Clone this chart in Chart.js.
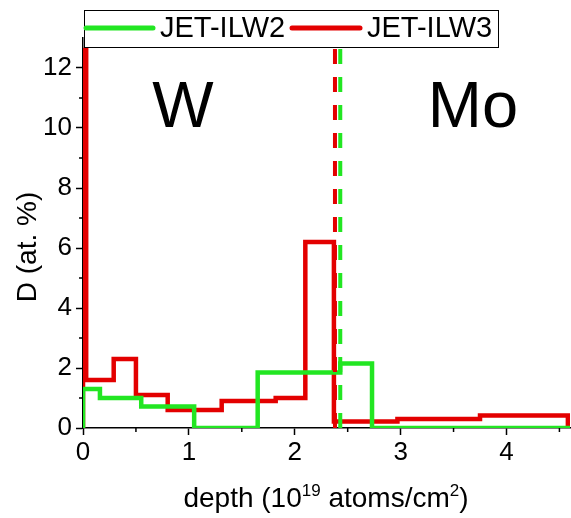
<!DOCTYPE html>
<html>
<head>
<meta charset="utf-8">
<script src="https://cdn.jsdelivr.net/npm/chart.js@4"></script>
<style>
  html, body { margin: 0; padding: 0; background: #fff; }
  #wrap { width: 571px; height: 518px; }
</style>
</head>
<body>
<div id="wrap"><canvas id="myChart" width="571" height="518"></canvas></div>
<script>
// step profiles: bin edges (depth, 1e19 atoms/cm2) and D content (at.%)
const ilw2Edges = [0, 0, 0.16, 0.55, 1.05, 1.65, 2.43, 2.73, 4.6];
const ilw2Values = [0, 1.3, 1.0, 0.72, 0, 1.85, 2.15, 0, 0];
const ilw3Edges = [0, 0, 0.03, 0.29, 0.5, 0.8, 1.31, 1.82, 2.1, 2.37, 2.97, 3.75, 4.58];
const ilw3Values = [0, 12.6, 1.6, 2.3, 1.1, 0.6, 0.9, 1.0, 6.2, 0.22, 0.3, 0.42, 0];

// W / Mo interface positions
const ilw2Interface = 2.43;
const ilw3Interface = 2.38;

const xTicks = [0, 1, 2, 3, 4];
const xMinor = [0.5, 1.5, 2.5, 3.5, 4.5];
const yTicks = [0, 2, 4, 6, 8, 10, 12];
const yMinor = [1, 3, 5, 7, 9, 11];
const seriesNames = ["JET-ILW2", "JET-ILW3"];

const green = "#22e622";
const red = "#e30000";
const font = "'Liberation Sans', Arial, sans-serif";

const toPoints = (xs, ys) => xs.map((x, i) => ({ x: x, y: ys[i] }));

const extras = {
    id: "extras",
    afterDraw(chart) {
        const ctx = chart.ctx;
        const xs = chart.scales.x;
        const ys = chart.scales.y;
        const area = chart.chartArea;
        ctx.save();

        // minor ticks
        ctx.strokeStyle = "#000";
        ctx.lineWidth = 1.5;
        yMinor.forEach(v => {
            const p = ys.getPixelForValue(v);
            ctx.beginPath();
            ctx.moveTo(area.left - 4, p);
            ctx.lineTo(area.left, p);
            ctx.stroke();
        });
        xMinor.forEach(v => {
            const p = xs.getPixelForValue(v);
            ctx.beginPath();
            ctx.moveTo(p, area.bottom);
            ctx.lineTo(p, area.bottom + 4);
            ctx.stroke();
        });

        // region labels
        ctx.fillStyle = "#000";
        ctx.font = "65px " + font;
        ctx.textAlign = "center";
        ctx.textBaseline = "alphabetic";
        ctx.fillText("W", 183, 127);
        ctx.fillText("Mo", 473, 127);

        // y title
        ctx.save();
        ctx.translate(36, 247);
        ctx.rotate(-Math.PI / 2);
        ctx.font = "28px " + font;
        ctx.fillText("D (at. %)", 0, 0);
        ctx.restore();

        // x title with superscripts
        const parts = [
            ["depth (10", false], ["19", true], [" atoms/cm", false], ["2", true], [")", false]
        ];
        const big = "28px " + font;
        const small = "17px " + font;
        let total = 0;
        parts.forEach(([t, sup]) => { ctx.font = sup ? small : big; total += ctx.measureText(t).width; });
        let x = 326 - total / 2;
        ctx.textAlign = "left";
        parts.forEach(([t, sup]) => {
            ctx.font = sup ? small : big;
            ctx.fillText(t, x, sup ? 496 : 507);
            x += ctx.measureText(t).width;
        });

        // legend box
        ctx.fillStyle = "#fff";
        ctx.fillRect(84, 10, 414, 37);
        ctx.strokeStyle = "#000";
        ctx.lineWidth = 1;
        ctx.strokeRect(84.5, 10.5, 414, 37);
        ctx.lineWidth = 5;
        ctx.lineCap = "round";
        [[green, 86, 153, 160], [red, 292, 360, 367]].forEach(([c, a, b, tx], i) => {
            ctx.strokeStyle = c;
            ctx.beginPath();
            ctx.moveTo(a, 28);
            ctx.lineTo(b, 28);
            ctx.stroke();
            ctx.fillStyle = "#000";
            ctx.font = "29px " + font;
            ctx.textBaseline = "middle";
            ctx.fillText(seriesNames[i], tx, 29);
        });
        ctx.restore();
    }
};

const ctx = document.getElementById("myChart").getContext("2d");
new Chart(ctx, {
    type: "scatter",
    data: {
        datasets: [
            {
                label: seriesNames[0] + " interface",
                data: [{ x: ilw2Interface, y: 0 }, { x: ilw2Interface, y: 13 }],
                showLine: true,
                borderColor: green,
                borderWidth: 4,
                borderDash: [15, 13],
                pointRadius: 0
            },
            {
                label: seriesNames[1] + " interface",
                data: [{ x: ilw3Interface, y: 0 }, { x: ilw3Interface, y: 13 }],
                showLine: true,
                borderColor: red,
                borderWidth: 4,
                borderDash: [15, 13],
                pointRadius: 0
            },
            {
                label: seriesNames[0],
                data: toPoints(ilw2Edges, ilw2Values),
                showLine: true,
                stepped: "before",
                borderColor: green,
                borderWidth: 4.5,
                pointRadius: 0
            },
            {
                label: seriesNames[1],
                data: toPoints(ilw3Edges, ilw3Values),
                showLine: true,
                stepped: "before",
                borderColor: red,
                borderWidth: 4.5,
                pointRadius: 0
            }
        ]
    },
    options: {
        responsive: false,
        animation: false,
        layout: { padding: { top: 38, right: 1, left: 0, bottom: 0 } },
        plugins: {
            legend: { display: false },
            tooltip: { enabled: false }
        },
        scales: {
            x: {
                type: "linear",
                min: 0,
                max: 4.6,
                afterFit: s => { s.height = 90; },
                afterBuildTicks: s => { s.ticks = xTicks.map(v => ({ value: v })); },
                border: { display: true, color: "#000", width: 1.5 },
                grid: { drawOnChartArea: false, color: "#000", tickLength: 7, tickWidth: 1.5 },
                ticks: { color: "#000", font: { family: font, size: 26 }, padding: 2, maxRotation: 0 }
            },
            y: {
                min: 0,
                max: 13,
                afterFit: s => { s.width = 83; },
                afterBuildTicks: s => { s.ticks = yTicks.map(v => ({ value: v })); },
                border: { display: true, color: "#000", width: 1.5 },
                grid: { drawOnChartArea: false, color: "#000", tickLength: 7, tickWidth: 1.5 },
                ticks: { color: "#000", font: { family: font, size: 26 }, padding: 4 }
            }
        }
    },
    plugins: [extras]
});
</script>
</body>
</html>
